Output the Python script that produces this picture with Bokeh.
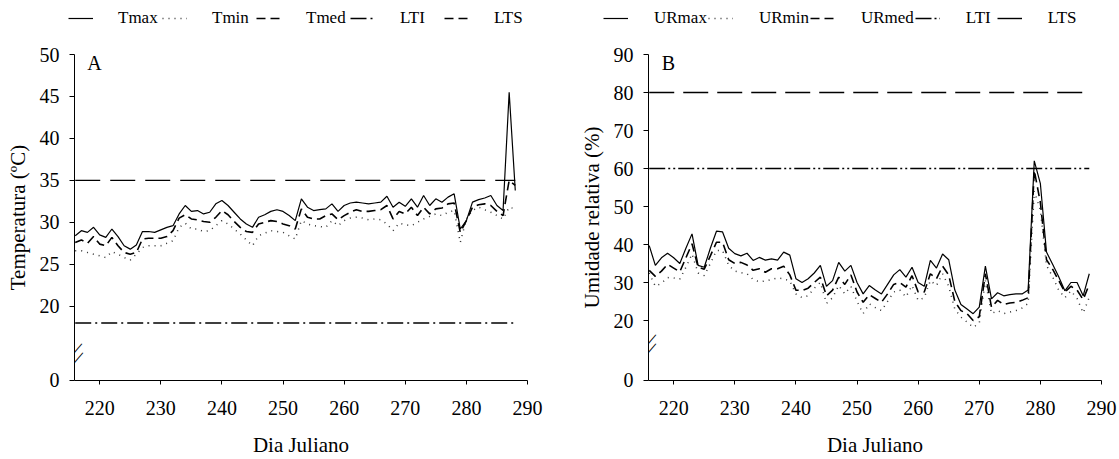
from bokeh.plotting import figure
from bokeh.layouts import row, column
from bokeh.models import FixedTicker, Legend, LegendItem, Label, Range1d
from bokeh.embed import file_html
from bokeh.resources import INLINE

# ---------------- data ----------------
days = list(range(216, 289))

tmax = [28.4, 29.0, 28.8, 29.4, 28.5, 28.2, 29.2, 28.3, 27.2, 26.8,
        27.3, 28.9, 28.9, 28.8, 29.1, 29.4, 29.6, 31.0, 32.0, 31.3,
        31.4, 31.0, 31.2, 32.2, 32.6, 32.0, 31.2, 30.4, 29.8, 29.4,
        30.6, 30.9, 31.3, 31.5, 31.3, 30.8, 30.2, 32.8, 31.8, 31.4,
        31.5, 31.6, 32.2, 31.3, 32.0, 32.3, 32.4, 32.3, 32.2, 32.3,
        32.4, 33.1, 31.8, 32.4, 31.9, 32.8, 31.8, 33.2, 32.0, 32.8,
        32.4, 33.0, 33.4, 29.2, 30.2, 32.4, 32.7, 32.9, 33.2, 32.0,
        31.4, 45.5, 33.8]
tmed = [27.6, 27.9, 27.5, 28.3, 27.4, 27.2, 28.2, 27.2, 26.4, 26.2,
        26.4, 28.0, 28.1, 28.1, 28.1, 28.3, 29.0, 30.5, 30.9, 30.4,
        30.3, 30.1, 30.0, 30.6, 31.4, 30.9, 30.1, 29.4, 28.9, 28.8,
        29.8, 30.0, 30.2, 30.1, 29.8, 29.6, 29.2, 31.6, 30.6, 30.4,
        30.4, 30.8, 31.0, 30.3, 30.8, 31.2, 31.5, 31.3, 31.3, 31.4,
        31.5, 32.0, 30.4, 31.3, 31.0, 31.8, 30.8, 31.8, 31.0, 31.6,
        31.7, 32.2, 32.3, 28.8, 30.2, 31.8, 32.1, 32.2, 32.0, 31.3,
        30.8, 35.0, 34.4]
tmin = [26.6, 26.6, 26.4, 26.2, 26.0, 25.8, 26.5, 26.2, 25.8, 25.5,
        26.2, 27.0, 27.2, 27.2, 27.2, 27.5, 27.8, 29.4, 29.9, 29.2,
        29.2, 28.9, 29.0, 29.6, 30.2, 29.8, 29.2, 28.6, 27.9, 27.2,
        28.4, 28.7, 29.0, 28.9, 28.8, 28.4, 28.0, 30.2, 29.8, 29.6,
        29.5, 29.4, 30.2, 29.6, 30.2, 30.5, 30.6, 30.5, 30.3, 30.4,
        30.3, 29.8, 29.0, 29.9, 29.7, 29.6, 30.0, 30.4, 30.7, 31.0,
        30.8, 31.2, 31.4, 27.6, 30.4, 31.4, 31.8, 31.5, 31.2, 30.8,
        30.4, 31.8, 31.6]

urmax = [39.7, 34.5, 36.5, 37.7, 36.5, 35.0, 39.0, 42.8, 34.5, 34.0,
         39.0, 43.5, 43.3, 39.0, 37.6, 37.0, 37.7, 35.8, 36.6, 35.9,
         36.2, 35.9, 38.0, 37.2, 31.0, 30.0, 31.0, 32.5, 34.5, 29.0,
         30.5, 35.3, 33.0, 34.5, 30.0, 27.0, 29.2, 28.0, 27.0, 29.5,
         32.0, 33.4, 31.4, 34.0, 30.0, 29.0, 35.8, 33.8, 37.5, 36.0,
         28.0, 24.2, 23.0, 21.8, 23.5, 34.3, 25.7, 27.3, 26.5, 26.8,
         27.0, 27.0, 28.0, 62.0, 56.0, 38.0, 34.8, 31.5, 27.8, 30.0,
         30.0, 26.5, 32.3]
urmed = [33.2, 31.6, 33.0, 34.8, 33.8, 32.8, 36.5, 40.2, 34.0, 33.5,
         37.0, 40.6, 40.6, 36.0, 35.0, 35.3, 34.6, 33.2, 33.6, 32.7,
         33.6, 33.6, 34.3, 32.0, 28.0, 27.9, 28.5, 30.0, 31.4, 26.5,
         28.0, 31.4, 29.5, 32.0, 27.5, 24.8, 26.8, 25.8, 24.8, 27.0,
         29.5, 30.0, 28.8, 31.8, 27.5, 27.5, 32.3, 31.0, 34.3, 32.0,
         25.0, 22.6, 21.8, 20.0, 21.0, 32.3, 23.5, 25.3, 24.2, 24.6,
         24.8, 25.3, 26.0, 59.5, 51.0, 36.0, 33.5, 30.5, 27.5, 29.0,
         28.0, 25.5, 29.5]
urmin = [32.5, 29.0, 29.8, 31.3, 31.2, 30.9, 34.0, 37.5, 32.5, 31.8,
         35.0, 38.4, 38.4, 34.5, 33.0, 32.6, 32.3, 30.8, 30.2, 30.4,
         30.8, 31.2, 31.0, 30.4, 27.0, 26.0, 26.5, 28.5, 30.0, 24.5,
         26.0, 29.2, 27.0, 29.0, 25.0, 21.8, 24.4, 23.4, 22.6, 25.0,
         27.5, 28.0, 26.2, 29.2, 25.3, 26.0, 30.5, 29.2, 32.3, 29.0,
         23.0, 20.9, 19.6, 18.2, 19.3, 30.5, 21.8, 22.6, 21.8, 22.2,
         22.6, 23.3, 24.5, 54.0, 49.0, 34.5, 31.5, 28.0, 26.0, 27.8,
         25.8, 22.0, 26.1]

lti_a, lts_a = 18, 35
lti_b, lts_b = 60, 80

x_ticks = [220, 230, 240, 250, 260, 270, 280, 290]
y_ticks_a = [20, 25, 30, 35, 40, 45, 50]
y_ticks_b = [20, 30, 40, 50, 60, 70, 80, 90]

FONT = "'Liberation Serif', 'Times New Roman', serif"
INK = "#000000"

STYLE_MAX = dict(line_color=INK, line_width=1.2)
STYLE_MIN = dict(line_color="#333333", line_width=1.5, line_dash="1 5")
STYLE_MED = dict(line_color=INK, line_width=1.6, line_dash="9 5")
LEG_H = 40


def make_panel(width, left, right, y_start, y_end, y_ticks, ylabel, letter,
               series, limits, breaks):
    p = figure(width=width, height=459 - LEG_H, output_backend="svg",
               toolbar_location=None,
               x_range=Range1d(215.88, 290), y_range=Range1d(y_start, y_end),
               min_border_left=left, min_border_right=right,
               min_border_top=54 - LEG_H, min_border_bottom=79)
    p.outline_line_color = None
    p.xgrid.visible = False
    p.ygrid.visible = False

    zero_tick = y_start + 0.01
    p.yaxis.ticker = FixedTicker(ticks=[zero_tick] + y_ticks)
    p.yaxis.major_label_overrides = {zero_tick: "0"}
    p.xaxis.ticker = FixedTicker(ticks=x_ticks)
    for ax in (p.xaxis[0], p.yaxis[0]):
        ax.axis_line_color = INK
        ax.axis_line_width = 1
        ax.major_tick_line_color = INK
        ax.minor_tick_line_color = None
        ax.major_tick_in = 0
        ax.major_label_text_font = FONT
        ax.major_label_text_font_size = "20px"
        ax.major_label_text_color = INK
        ax.axis_label_text_font = FONT
        ax.axis_label_text_font_size = "21px"
        ax.axis_label_text_font_style = "normal"
        ax.axis_label_text_color = INK
    p.yaxis.major_tick_out = 5
    p.xaxis.major_tick_out = 4
    p.yaxis.major_label_standoff = 10
    p.xaxis.major_label_standoff = 16
    p.yaxis.axis_label = ylabel
    p.yaxis.axis_label_standoff = 7
    p.xaxis.axis_label = "Dia Juliano"
    p.xaxis.axis_label_standoff = 15

    smax, smin, smed = series
    p.line(days, smax, **STYLE_MAX)
    p.line(days, smin, **STYLE_MIN)
    p.line(days, smed, **STYLE_MED)
    lti, lts, lti_dash, lts_dash = limits
    p.line([days[0], days[-1]], [lti, lti], line_color=INK, line_width=1.4,
           line_dash=lti_dash)
    p.line([days[0], days[-1]], [lts, lts], line_color=INK, line_width=1.4,
           line_dash=lts_dash)

    p.add_layout(Label(x=20, y=318, x_units="screen", y_units="screen", text=letter,
                       text_font=FONT, text_font_size="20px", text_color=INK,
                       text_align="center", text_baseline="middle"))

    # axis-break marks: two short rotated strokes across the y axis
    for (bx, by) in breaks:
        p.add_layout(Label(x=bx, y=by, x_units="screen", y_units="screen", text="\u2014",
                           angle=0.86, text_font=FONT, text_font_size="18px",
                           text_color=INK, text_align="center", text_baseline="middle"))
    return p


def make_legend(width, labels, series, limit_vals, limits, x0, label_width,
                standoff, spacing):
    # legend strip: same series drawn, but the strip's ranges keep them out of view
    q = figure(width=width, height=LEG_H, output_backend="svg", toolbar_location=None,
               x_range=Range1d(0, 1), y_range=Range1d(0, 1),
               x_axis_type=None, y_axis_type=None, min_border=0)
    q.outline_line_color = None
    q.xgrid.visible = False
    q.ygrid.visible = False
    smax, smin, smed = series
    lti, lts = limit_vals
    lti_dash, lts_dash = limits
    rs = [q.line(days, smax, **STYLE_MAX),
          q.line(days, smin, **STYLE_MIN),
          q.line(days, smed, **STYLE_MED),
          q.line([days[0], days[-1]], [lti, lti], line_color=INK, line_width=1.4,
                 line_dash=lti_dash),
          q.line([days[0], days[-1]], [lts, lts], line_color=INK, line_width=1.4,
                 line_dash=lts_dash)]
    items = [LegendItem(label=lab, renderers=[r]) for lab, r in zip(labels, rs)]
    legend = Legend(items=items, orientation="horizontal", location=(x0, 12),
                    glyph_width=25, glyph_height=20, label_standoff=standoff,
                    label_width=label_width, spacing=spacing, padding=0, margin=0,
                    border_line_color=None, background_fill_alpha=0,
                    label_text_font=FONT, label_text_font_size="17px",
                    label_text_color=INK)
    q.add_layout(legend)
    return q


ya_start = 50 - 326 / 8.39
pA = make_panel(560, 74, 33, ya_start, 50, y_ticks_a, "Temperatura (ºC)", "A",
                (tmax, tmin, tmed), (lti_a, lts_a, "16 4 2 4", "25 10"),
                [(0, 380 - 349), (1, 380 - 358)])
legA = make_legend(560, ["Tmax", "Tmin", "Tmed", "LTI", "LTS"],
                   (tmax, tmin, tmed), (lti_a, lts_a),
                   ("16 4 2 4", "9 5"), 68, 42, 25, 2)

yb_start = 90 - 326 / 3.8
pB = make_panel(559, 88, 18, yb_start, 90, y_ticks_b, "Umidade relativa (%)", "B",
                (urmax, urmin, urmed), (lti_b, lts_b, "16 3 2 3 2 3", "25 9"),
                [(0, 380 - 340), (0, 380 - 349)])
legB = make_legend(559, ["URmax", "URmin", "URmed", "LTI", "LTS"],
                   (urmax, urmin, urmed), (lti_b, lts_b),
                   ("16 3 2 3 2 3", "25 9"), 43, 30, 26, 1)

layout = column(row(legA, legB), row(pA, pB))
open("out.html", "w").write(file_html(layout, INLINE))
